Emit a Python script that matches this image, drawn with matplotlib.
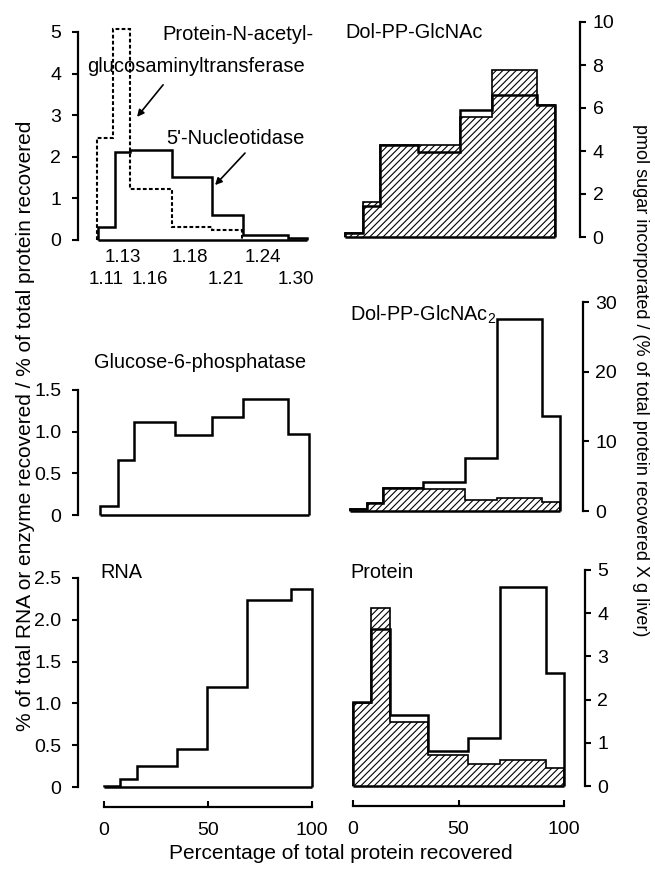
import numpy as np
import matplotlib
matplotlib.use("Agg")
import matplotlib.pyplot as plt

plt.rcParams['font.family'] = ['Liberation Sans', 'DejaVu Sans']
plt.rcParams['mathtext.default'] = 'regular'
plt.rcParams['hatch.linewidth'] = 0.8

FS = 14

# ---- data (x = percentage of total protein recovered, bin edges) ----
# top left: density gradient enzymes
tl_edges = [-2.7, 5.3, 12.5, 32.5, 51.8, 67.0, 88.6, 97.4]
nucleotidase = [0.32, 2.12, 2.17, 1.51, 0.60, 0.12, 0.06]
gnt_edges = [-3.5, 4.5, 12.5, 32.5, 51.8, 66.2]
gnt = [2.44, 5.08, 1.23, 0.32, 0.24]
density_row1 = ['1.13', '1.18', '1.24']
density_row2 = ['1.11', '1.16', '1.21', '1.30']

# top right: Dol-PP-GlcNAc
tr_edges = [-3.8, 4.6, 12.8, 30.9, 50.7, 65.7, 87.3, 95.7]
tr_hatched = [0.18, 1.65, 4.28, 4.30, 5.60, 7.79, 6.14]
tr_open = [0.18, 1.42, 4.28, 3.97, 5.90, 6.60, 6.14]

# middle left: glucose-6-phosphatase
ml_edges = [-1.9, 6.9, 14.6, 34.1, 52.1, 67.0, 88.6, 98.6]
g6p = [0.11, 0.66, 1.12, 0.96, 1.18, 1.39, 0.97]

# middle right: Dol-PP-GlcNAc2
mr_edges = [-1.4, 6.5, 14.4, 33.3, 53.1, 68.1, 89.4, 98.1]
mr_open = [0.3, 1.1, 3.3, 4.1, 7.6, 27.6, 13.6]
mr_hatched = [0.3, 1.1, 3.3, 3.1, 1.6, 1.8, 1.3]

# bottom left: RNA
bl_edges = [0, 7.7, 16.0, 34.9, 49.7, 68.6, 89.8, 99.9]
rna = [0.01, 0.09, 0.25, 0.45, 1.20, 2.24, 2.37]

# bottom right: protein
br_edges = [0, 8.7, 17.4, 35.5, 54.5, 69.5, 91.6, 100]
br_open = [1.95, 3.63, 1.64, 0.82, 1.10, 4.60, 2.62]
br_hatched = [1.91, 4.11, 1.49, 0.72, 0.52, 0.60, 0.41]

W, H = 655, 871
fig = plt.figure(figsize=(W / 100, H / 100), dpi=100)


def px_axes(x0, y0, x1, y1):
    return fig.add_axes([x0 / W, 1 - y1 / H, (x1 - x0) / W, (y1 - y0) / H])


def txt(x, y, s, **kw):
    kw.setdefault('fontsize', FS)
    fig.text(x / W, 1 - y / H, s, **kw)


# column scales: pixel of 0 % and px per %
L0, LS = 104, 2.08
R0, RS = 353, 2.11


def style(ax, side, ymax, yticks, ylabels, bottom=False):
    for s in ['top', 'bottom', 'left', 'right']:
        ax.spines[s].set_visible(False)
    ax.spines[side].set_visible(True)
    ax.spines[side].set_linewidth(1.6)
    ax.set_ylim(0, ymax)
    ax.set_yticks(yticks)
    ax.set_yticklabels(ylabels)
    ax.patch.set_alpha(0)
    if side == 'left':
        ax.yaxis.tick_left()
        ax.tick_params(axis='y', direction='out', length=4, width=1.5,
                       labelsize=FS, pad=8)
    else:
        ax.yaxis.tick_right()
        ax.tick_params(axis='y', direction='out', length=4, width=1.5,
                       labelsize=FS, pad=5)
    if bottom:
        ax.spines['bottom'].set_visible(True)
        ax.spines['bottom'].set_linewidth(1.6)
        ax.spines['bottom'].set_position(('outward', 14.4))
        ax.spines['bottom'].set_bounds(0, 100)
        ax.set_xticks([0, 50, 100])
        ax.tick_params(axis='x', direction='in', length=4, width=1.5,
                       labelsize=FS, pad=11)
    else:
        ax.set_xticks([])


def left_axes(y0, y1):
    ax = px_axes(78, y0, 320, y1)
    ax.set_xlim((78 - L0) / LS, (320 - L0) / LS)
    return ax


def right_axes(y0, y1, xs):
    ax = px_axes(340, y0, xs, y1)
    ax.set_xlim((340 - R0) / RS, (xs - R0) / RS)
    return ax


def single(ax, edges, vals):
    ax.stairs(vals, edges, fill=False, baseline=0, color='black', lw=1.8,
              clip_on=False)
    ax.hlines(0, edges[0], edges[-1], color='black', lw=1.8, clip_on=False)


def pair(ax, edges, hatched, open_):
    ax.stairs(open_, edges, fill=True, facecolor='white', edgecolor='none',
              zorder=1, clip_on=False)
    ax.stairs(hatched, edges, fill=True, facecolor='white', edgecolor='black',
              hatch='/////', lw=1.2, zorder=2, clip_on=False)
    ax.stairs(open_, edges, fill=False, baseline=0, color='black',
              lw=1.8, zorder=3, clip_on=False)
    ax.hlines(0, edges[0], edges[-1], color='black', lw=1.8, zorder=3,
              clip_on=False)


# ---- top left ----
ax = left_axes(32, 240)
single(ax, tl_edges, nucleotidase)
ax.stairs(gnt, gnt_edges, fill=False, baseline=0, color='black', lw=1.5,
          linestyle=(0, (1.8, 1.1)), clip_on=False)
style(ax, 'left', 5, [0, 1, 2, 3, 4, 5], ['0', '1', '2', '3', '4', '5'])
ax.annotate('', xy=(15.9, 2.96), xytext=(28.4, 3.73),
            arrowprops=dict(arrowstyle='-|>', color='black', lw=1.2,
                            mutation_scale=10, shrinkA=0, shrinkB=0))
ax.annotate('', xy=(53.4, 1.32), xytext=(67.8, 2.09),
            arrowprops=dict(arrowstyle='-|>', color='black', lw=1.2,
                            mutation_scale=10, shrinkA=0, shrinkB=0))
txt(313, 34, 'Protein-N-acetyl-', ha='right', va='center', fontsize=14.5)
txt(305, 67, 'glucosaminyltransferase', ha='right', va='center',
    fontsize=14.5)
txt(305, 138, "5'-Nucleotidase", ha='right', va='center', fontsize=14.5)
for s, xp in zip(density_row1, [123, 190, 263]):
    txt(xp, 257, s, ha='center', va='center', fontsize=13.5)
for s, xp in zip(density_row2, [106, 150, 226, 296]):
    txt(xp, 280, s, ha='center', va='center', fontsize=13.5)

# ---- top right ----
ax = right_axes(22, 237, 580)
pair(ax, tr_edges, tr_hatched, tr_open)
style(ax, 'right', 10, [0, 2, 4, 6, 8, 10],
      ['0', '2', '4', '6', '8', '10'])
txt(345, 33, 'Dol-PP-GlcNAc', ha='left', va='center', fontsize=14.3)

# ---- middle left ----
ax = left_axes(390, 515)
single(ax, ml_edges, g6p)
style(ax, 'left', 1.5, [0, 0.5, 1.0, 1.5], ['0', '0.5', '1.0', '1.5'])
txt(200, 362, 'Glucose-6-phosphatase', ha='center', va='center',
    fontsize=14.3)

# ---- middle right ----
ax = right_axes(302, 511, 583)
pair(ax, mr_edges, mr_hatched, mr_open)
style(ax, 'right', 30, [0, 10, 20, 30], ['0', '10', '20', '30'])
txt(350, 315, r'Dol-PP-GlcNAc$_{2}$', ha='left', va='center', fontsize=14.3)

# ---- bottom left ----
ax = left_axes(578, 787)
single(ax, bl_edges, rna)
style(ax, 'left', 2.5, [0, 0.5, 1.0, 1.5, 2.0, 2.5],
      ['0', '0.5', '1.0', '1.5', '2.0', '2.5'], bottom=True)
txt(100, 573, 'RNA', ha='left', va='center', fontsize=14.3)

# ---- bottom right ----
ax = right_axes(570, 786, 585)
pair(ax, br_edges, br_hatched, br_open)
style(ax, 'right', 5, [0, 1, 2, 3, 4, 5], ['0', '1', '2', '3', '4', '5'],
      bottom=True)
txt(350, 572, 'Protein', ha='left', va='center', fontsize=14.3)

# ---- axis labels ----
txt(341, 853, 'Percentage of total protein recovered', ha='center',
    va='center', fontsize=15)
txt(26, 426, '% of total RNA or enzyme recovered / % of total protein recovered',
    ha='center', va='center', rotation=90, fontsize=15)
txt(640, 380, 'pmol sugar incorporated / (% of total protein recovered X g liver)',
    ha='center', va='center', rotation=270, fontsize=13)

fig.savefig('out.png', dpi=100)
